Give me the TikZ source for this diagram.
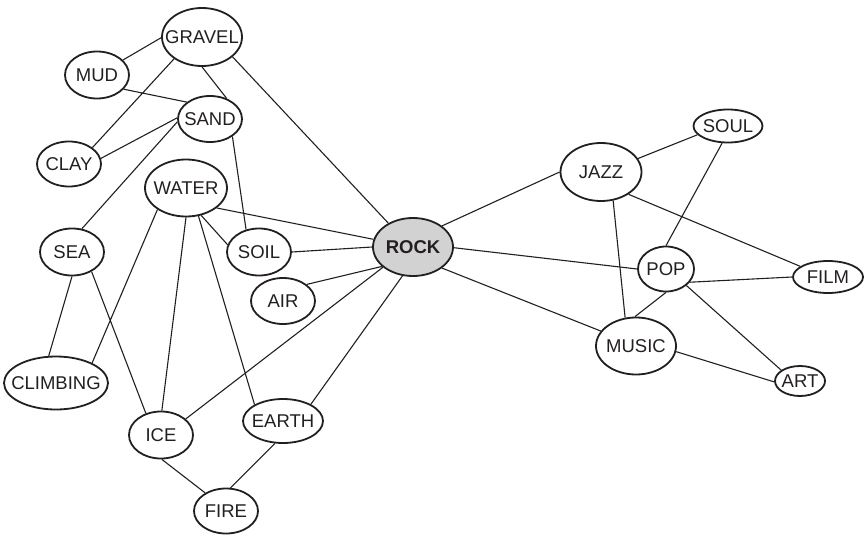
\documentclass[tikz,border=0pt]{standalone}
\usepackage{fontspec}
\setmainfont{Liberation Sans}
\usetikzlibrary{shapes.geometric}
\definecolor{ink}{HTML}{231F20}
\definecolor{rockfill}{HTML}{D2D2D2}
% label of zero width, so the ellipse takes exactly its given size
\newcommand{\wordlabel}[1]{\makebox[0pt]{#1}}
\tikzset{
  word/.style={ellipse, draw=ink, line width=1.8pt, inner sep=0pt, text=ink,
    font=\fontsize{18.5}{20}\selectfont},
  hub/.style={word, fill=rockfill, font=\fontsize{18.5}{20}\selectfont\bfseries},
  link/.style={draw=ink, line width=1.1pt},
}
\begin{document}
\begin{tikzpicture}[x=1pt, y=-1pt]
\useasboundingbox (0,0) rectangle (866,535);

% word nodes
\node[word, minimum width=80pt, minimum height=58pt] (gravel) at (202,37) {\wordlabel{GRAVEL}};
\node[word, minimum width=64pt, minimum height=47pt] (mud) at (97,75) {\wordlabel{MUD}};
\node[word, minimum width=64pt, minimum height=46pt] (sand) at (210,119) {\wordlabel{SAND}};
\node[word, minimum width=64pt, minimum height=45pt] (clay) at (69,164) {\wordlabel{CLAY}};
\node[word, minimum width=82pt, minimum height=57pt] (water) at (186,188) {\wordlabel{WATER}};
\node[word, minimum width=64pt, minimum height=47pt] (sea) at (72,252) {\wordlabel{SEA}};
\node[word, minimum width=64pt, minimum height=47pt] (soil) at (259,252) {\wordlabel{SOIL}};
\node[hub,  minimum width=80pt, minimum height=58pt] (rock) at (413,247) {\wordlabel{ROCK}};
\node[word, minimum width=64pt, minimum height=46pt] (air) at (283,301) {\wordlabel{AIR}};
\node[word, minimum width=104pt, minimum height=53pt] (climbing) at (56,383) {\wordlabel{CLIMBING}};
\node[word, minimum width=64pt, minimum height=47pt] (ice) at (161,435) {\wordlabel{ICE}};
\node[word, minimum width=80pt, minimum height=44pt] (earth) at (283,421) {\wordlabel{EARTH}};
\node[word, minimum width=64pt, minimum height=45pt] (fire) at (226,511) {\wordlabel{FIRE}};
\node[word, minimum width=69pt, minimum height=33pt] (soul) at (728,126) {\wordlabel{SOUL}};
\node[word, minimum width=81pt, minimum height=58pt] (jazz) at (601,172) {\wordlabel{JAZZ}};
\node[word, minimum width=56pt, minimum height=45pt] (pop) at (666,269) {\wordlabel{POP}};
\node[word, minimum width=70pt, minimum height=32pt] (film) at (828,277) {\wordlabel{FILM}};
\node[word, minimum width=80pt, minimum height=57pt] (music) at (636,346) {\wordlabel{MUSIC}};
\node[word, minimum width=50pt, minimum height=30pt] (art) at (800,381) {\wordlabel{ART}};

% associations
\path[link]
  (mud.30) -- (gravel.181)
  (gravel.218) -- (clay.35)
  (gravel.270) -- (sand.51)
  (gravel.-33) -- (rock.136)
  (mud.-28) -- (sand.144)
  (sand.178) -- (clay.10)
  (sand.185) -- (sea.67)
  (sand.-38) -- (soil.120)
  (water.-33) -- (rock.169)
  (water.-61) -- (soil.167)
  (water.217) -- (climbing.29)
  (water.270) -- (ice.88)
  (water.-66) -- (earth.150)
  (soil.0) -- (rock.180)
  (air.35) -- (rock.212)
  (rock.214) -- (ice.33)
  (rock.250) -- (earth.31)
  (sea.270) -- (climbing.105)
  (sea.-45) -- (ice.125)
  (ice.-88) -- (fire.139)
  (earth.250) -- (fire.79)
  (rock.36) -- (jazz.180)
  (rock.-1) -- (pop.180)
  (rock.-36) -- (music.157)
  (jazz.20) -- (soul.196)
  (jazz.-67) -- (music.111)
  (jazz.-39) -- (film.159)
  (soul.251) -- (pop.90)
  (pop.-29) -- (film.180)
  (pop.270) -- (music.92)
  (pop.-39) -- (art.150)
  (music.-8) -- (art.182);
\end{tikzpicture}
\end{document}
